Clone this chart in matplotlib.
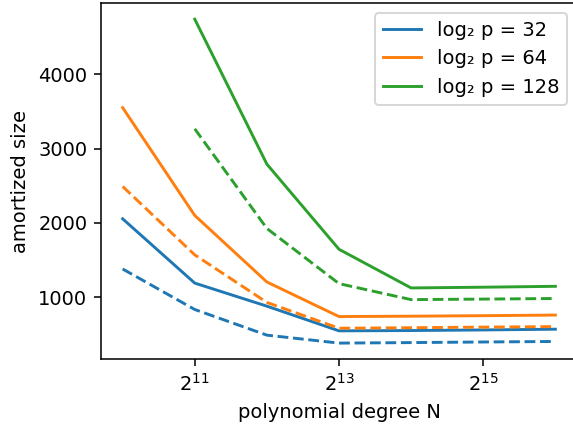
import matplotlib
matplotlib.use("Agg")
import matplotlib.pyplot as plt
from matplotlib.ticker import NullLocator, FixedLocator, LogFormatterMathtext

N = [2**10, 2**11, 2**12, 2**13, 2**14, 2**15, 2**16]
N128 = [2**11, 2**12, 2**13, 2**14, 2**15, 2**16]

p32_solid = [2055, 1190, 880, 548, 552, 560, 570]
p32_dashed = [1380, 835, 490, 383, 390, 398, 405]
p64_solid = [3550, 2100, 1205, 740, 745, 752, 760]
p64_dashed = [2490, 1570, 930, 583, 590, 598, 605]
p128_solid = [4740, 2790, 1645, 1125, 1135, 1147]
p128_dashed = [3265, 1925, 1183, 968, 975, 983]

labels = ["log₂ p = 32", "log₂ p = 64", "log₂ p = 128"]
colors = ["#1f77b4", "#ff7f0e", "#2ca02c"]

dpi = 140
fig = plt.figure(figsize=(573 / dpi, 426 / dpi), dpi=dpi)
ax = fig.add_axes([101 / 573, 66.7 / 426, 476 / 573, 356.3 / 426])

ax.plot(N, p32_solid, color=colors[0], label=labels[0])
ax.plot(N, p64_solid, color=colors[1], label=labels[1])
ax.plot(N128, p128_solid, color=colors[2], label=labels[2])
ax.plot(N, p32_dashed, color=colors[0], linestyle="--")
ax.plot(N, p64_dashed, color=colors[1], linestyle="--")
ax.plot(N128, p128_dashed, color=colors[2], linestyle="--")

ax.set_xscale("log", base=2)
ax.xaxis.set_major_locator(FixedLocator([2**11, 2**13, 2**15]))
ax.xaxis.set_major_formatter(LogFormatterMathtext(base=2))
ax.xaxis.set_minor_locator(NullLocator())
ax.set_yticks([1000, 2000, 3000, 4000])

ax.set_xlabel("polynomial degree N")
ax.set_ylabel("amortized size")
ax.legend(loc="upper right")

fig.savefig("out.png", dpi=dpi)
